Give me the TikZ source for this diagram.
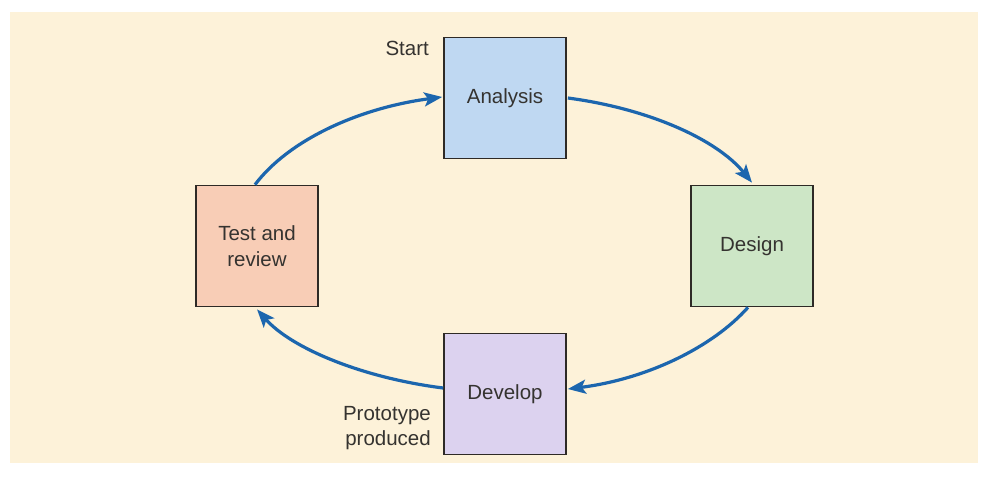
\documentclass[tikz,border=0pt]{standalone}
\usepackage{fontspec}
\setmainfont{Liberation Sans}
\usetikzlibrary{arrows.meta}

\definecolor{paper}{HTML}{FDF2D9}
\definecolor{framecol}{HTML}{2E2A26}
\definecolor{inkcol}{HTML}{353330}
\definecolor{flowcol}{HTML}{1C66AE}
\definecolor{analysisfill}{HTML}{BFD8F2}
\definecolor{designfill}{HTML}{CDE6C6}
\definecolor{developfill}{HTML}{DCD2EF}
\definecolor{testfill}{HTML}{F8CDB6}

\begin{document}
\begin{tikzpicture}[x=1pt,y=-1pt,
  stage/.style={draw=framecol, line width=1.7pt, minimum width=122pt,
    minimum height=121pt, inner sep=0pt, align=center, text=inkcol,
    font=\fontsize{20.5}{26}\selectfont},
  note/.style={text=inkcol, inner sep=0pt, font=\fontsize{20.5}{25}\selectfont},
  flow/.style={draw=flowcol, line width=3.2pt,
    -{Stealth[length=18pt,width=14pt,inset=4pt]}}]

  % page and paper panel
  \useasboundingbox (0,0) rectangle (988,477);
  \fill[white] (0,0) rectangle (988,477);
  \fill[paper] (10,12) rectangle (978,463);

  % the four stages of the cycle
  \node[stage, fill=analysisfill] (analysis) at (505,98)  {Analysis};
  \node[stage, fill=designfill]   (design)   at (752,246) {Design};
  \node[stage, fill=developfill]  (develop)  at (505,394) {Develop};
  \node[stage, fill=testfill]     (test)     at (257,246) {Test and\\review};

  % side notes
  \node[note, anchor=base east] (start) at (429,55) {Start};
  \node[note, anchor=north east, align=right] (proto) at (431,406)
    {Prototype\\produced};

  % cycle connectors
  \draw[flow] ([xshift=-2pt]test.north) .. controls +(34,-45) and +(-83,11)
    .. ([xshift=-1pt,yshift=1pt]analysis.west);
  \draw[flow] ([xshift=1pt]analysis.east) .. controls +(81.5,10.8) and +(-35,-43)
    .. ([yshift=2pt]design.north);
  \draw[flow] ([xshift=-4pt]design.south) .. controls +(-35,39.5) and +(79.5,-10)
    .. ([xshift=1pt,yshift=5pt]develop.east);
  \draw[flow] ([yshift=6pt]develop.west) .. controls +(-79.5,-10) and +(35,39.5)
    .. ([xshift=0pt,yshift=-2pt]test.south);
\end{tikzpicture}
\end{document}
